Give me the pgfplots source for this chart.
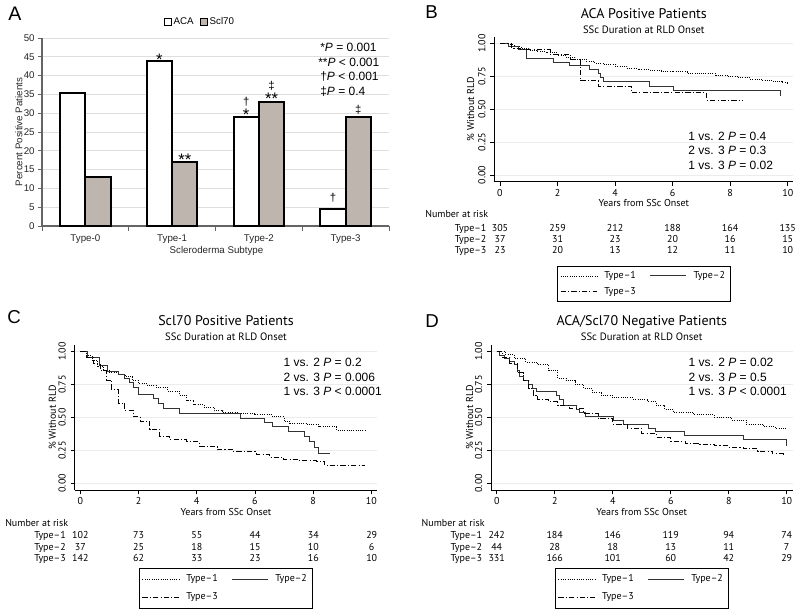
\documentclass[border=0pt]{standalone}
\usepackage{fontspec}
\setmainfont{Liberation Sans}
\newfontfamily\statafont{PT Sans}
\usepackage{pgfplots}
\pgfplotsset{compat=1.18}

\definecolor{sclgray}{RGB}{190,182,174}
\definecolor{gridgray}{RGB}{222,222,222}
\definecolor{axgray}{RGB}{100,100,100}
\definecolor{kmgrid}{RGB}{236,236,236}

\newcommand{\kmfont}{\statafont\fontsize{7.5}{9}\selectfont}

\pgfplotsset{
 kmaxis/.style={
   scale only axis, height=108.75pt,
   ymin=-0.051, ymax=1.051,
   axis x line*=bottom, axis y line*=left,
   axis line style={-, black, line width=0.6pt},
   xtick={0,2,4,6,8,10}, ytick={0,0.25,0.5,0.75,1},
   tick align=outside, major tick length=3pt,
   tick style={black, line width=0.5pt},
   ymajorgrids, grid style={kmgrid, line width=0.6pt},
   /pgf/number format/assume math mode=true,
   yticklabel style={rotate=90, anchor=south, /pgf/number format/.cd, fixed, fixed zerofill, precision=2},
   xticklabel style={yshift=1pt, /pgf/number format/.cd, fixed, precision=0},
   tick label style={font=\kmfont},
   clip=false,
   legend columns=2,
   legend cell align=left,
   legend image code/.code={\draw[##1] (0pt,0pt) -- (27.5pt,0pt);},
   legend style={draw=black, line width=0.5pt, font=\kmfont, anchor=north,
     inner xsep=2pt, inner ysep=3pt,
     /tikz/every odd column/.append style={column sep=3pt},
     /tikz/every even column/.append style={column sep=8pt},
     row sep=3pt},
 },
 t1/.style={black, line width=0.7pt, dash pattern=on 0.7pt off 1pt, const plot},
 t2/.style={black!80, line width=0.75pt, solid, const plot},
 t3/.style={black, line width=0.7pt, dash pattern=on 4pt off 1.6pt on 0.8pt off 1.6pt, const plot},
}

\begin{document}
\begin{tikzpicture}
\path[use as bounding box] (0,0) rectangle (600pt,456pt);

%% ---------------- Panel A ----------------
\begin{axis}[
  at={(31.5pt,286.5pt)}, anchor=south west,
  scale only axis, width=260.25pt, height=141pt,
  ybar=0pt, bar width=19pt,
  xmin=-0.5, xmax=3.5, ymin=0, ymax=50,
  xtick={0,1,2,3}, xticklabels={Type-0,Type-1,Type-2,Type-3},
  minor xtick={-0.5,0.5,1.5,2.5,3.5},
  ytick={0,5,...,50},
  axis x line*=bottom, axis y line*=left,
  axis line style={-, axgray, line width=0.8pt},
  tick align=outside, major tick length=3pt, minor tick length=3.5pt,
  tick style={axgray, line width=0.6pt},
  major x tick style={draw=none},
  ymajorgrids, grid style={gridgray, line width=0.6pt},
  /pgf/number format/assume math mode=true,
  yticklabel style={xshift=1pt},
  tick label style={font=\fontsize{7.3}{9}\selectfont, text=black!85},
  legend columns=2,
  legend image code/.code={\draw[#1, line width=0.8pt] (0pt,-2.6pt) rectangle (5.2pt,2.6pt);},
  legend style={at={(0.455,1.085)}, anchor=center, draw=none, fill=none,
     font=\fontsize{7.3}{9}\selectfont,
     /tikz/every odd column/.append style={column sep=0pt},
     /tikz/every even column/.append style={column sep=4pt},
     nodes={inner xsep=1pt}},
  clip=false,
]
\addplot[draw=black, line width=1.5pt, fill=white] coordinates {(0,35.5) (1,44) (2,29) (3,4.5)};
\addplot[draw=black, line width=1.5pt, fill=sclgray] coordinates {(0,13) (1,17) (2,33) (3,29)};
\legend{ACA,Scl70}
\end{axis}

%% ---------------- Panel B ----------------
\begin{axis}[kmaxis,
  at={(370.7pt,319.7pt)}, anchor=south west, width=224pt,
  xmin=-0.198, xmax=10.18,
  legend style={at={(0.5009,-0.5795)}, row sep=1pt, inner ysep=2pt},
]
\addplot[t1] coordinates {(0,1) (0.25,0.99) (0.5,0.975) (0.75,0.96) (1.0,0.95) (1.3,0.94) (1.6,0.93) (2.0,0.91) (2.3,0.895) (2.6,0.88) (3.0,0.865) (3.3,0.85) (3.6,0.84) (4.0,0.825) (4.4,0.81) (4.8,0.80) (5.2,0.795) (5.6,0.79) (6.0,0.785) (6.5,0.775) (7.0,0.77) (7.5,0.76) (7.9,0.75) (8.3,0.74) (8.7,0.73) (9.1,0.72) (9.5,0.71) (9.8,0.70) (10.0,0.69)};
\addlegendentry{Type–1}
\addplot[t2] coordinates {(0,1) (0.29,0.977) (0.64,0.951) (0.93,0.888) (1.85,0.858) (2.4,0.833) (3.1,0.80) (3.42,0.774) (3.51,0.742) (3.59,0.711) (5.18,0.675) (6.02,0.643) (9.76,0.643) (9.76,0.60)};
\addlegendentry{Type–2}
\addplot[t3] coordinates {(0,1) (0.4,0.965) (0.7,0.955) (1.75,0.92) (2.45,0.88) (2.78,0.72) (3.42,0.675) (4.58,0.625) (7.18,0.57) (8.45,0.57)};
\addlegendentry{Type–3}
\end{axis}

%% ---------------- Panel C ----------------
\begin{axis}[kmaxis,
  at={(55.9pt,88.5pt)}, anchor=south west, width=226.9pt,
  xmin=-0.2, xmax=10.2,
  legend style={at={(0.5,-0.5345)}},
]
\addplot[t1] coordinates {(0,1) (0.2,0.97) (0.4,0.93) (0.6,0.89) (0.8,0.86) (1.0,0.84) (1.3,0.83) (1.55,0.81) (1.8,0.78) (2.0,0.76) (2.3,0.745) (2.6,0.73) (3.0,0.70) (3.4,0.67) (3.65,0.63) (3.9,0.60) (4.25,0.575) (4.6,0.55) (4.9,0.535) (5.4,0.53) (6.0,0.52) (6.6,0.505) (7.0,0.47) (7.2,0.455) (7.8,0.445) (8.2,0.43) (8.8,0.405) (9.85,0.405)};
\addlegendentry{Type–1}
\addplot[t2] coordinates {(0,1) (0.24,0.957) (0.675,0.899) (0.93,0.848) (1.3,0.83) (1.53,0.797) (1.7,0.765) (1.82,0.73) (2.0,0.676) (2.5,0.646) (2.68,0.608) (2.85,0.565) (3.42,0.527) (5.52,0.494) (6.34,0.461) (6.62,0.43) (7.14,0.397) (7.71,0.354) (7.88,0.316) (8.05,0.273) (8.2,0.228) (8.57,0.228)};
\addlegendentry{Type–2}
\addplot[t3] coordinates {(0,1) (0.22,0.96) (0.45,0.91) (0.68,0.856) (0.9,0.785) (1.08,0.71) (1.3,0.61) (1.53,0.556) (1.82,0.505) (2.05,0.467) (2.39,0.41) (2.73,0.355) (3.08,0.33) (3.65,0.316) (4.1,0.283) (4.7,0.255) (5.25,0.24) (6.05,0.22) (6.5,0.2) (6.97,0.182) (7.5,0.172) (8.1,0.168) (8.4,0.139) (9.77,0.139)};
\addlegendentry{Type–3}
\end{axis}

%% ---------------- Panel D ----------------
\begin{axis}[kmaxis,
  at={(368.2pt,88.5pt)}, anchor=south west, width=226.2pt,
  xmin=-0.2, xmax=10.2,
  legend style={at={(0.5,-0.5345)}},
]
\addplot[t1] coordinates {(0,1) (0.3,0.98) (0.6,0.95) (1.0,0.92) (1.4,0.90) (1.8,0.86) (2.1,0.80) (2.4,0.78) (2.7,0.75) (3.0,0.72) (3.3,0.69) (3.6,0.67) (4.0,0.65) (4.7,0.64) (5.2,0.62) (5.5,0.59) (5.8,0.56) (6.1,0.54) (6.8,0.52) (7.5,0.50) (8.1,0.48) (8.6,0.45) (9.2,0.43) (9.6,0.42) (9.95,0.41)};
\addlegendentry{Type–1}
\addplot[t2] coordinates {(0,1) (0.10,0.975) (0.28,0.95) (0.45,0.925) (0.60,0.90) (0.70,0.86) (0.80,0.81) (0.92,0.78) (1.08,0.75) (1.25,0.72) (1.38,0.695) (2.07,0.67) (2.18,0.64) (2.30,0.59) (2.75,0.56) (2.87,0.535) (3.05,0.51) (4.02,0.48) (4.37,0.45) (5.23,0.42) (5.46,0.395) (6.49,0.365) (8.51,0.33) (10.0,0.33) (10.0,0.285)};
\addlegendentry{Type–2}
\addplot[t3] coordinates {(0,1) (0.2,0.96) (0.45,0.91) (0.7,0.84) (0.92,0.78) (1.1,0.72) (1.25,0.67) (1.4,0.64) (1.8,0.62) (2.1,0.59) (2.5,0.57) (3.0,0.53) (3.5,0.49) (4.0,0.45) (4.5,0.42) (5.0,0.38) (5.5,0.35) (6.0,0.32) (6.5,0.305) (7.0,0.295) (7.5,0.285) (8.0,0.275) (8.5,0.265) (9.0,0.245) (9.5,0.225) (9.9,0.21)};
\addlegendentry{Type–3}
\end{axis}

%% ---------------- Text in pixel coordinates ----------------
\begin{scope}[x=0.75pt, y=-0.75pt, shift={(0pt,456pt)}]
% panel letters
\node[anchor=base west, inner sep=0, font=\fontsize{14.7}{16}\selectfont] at (8,21) {A};
\node[anchor=base west, inner sep=0, font=\fontsize{14}{16}\selectfont] at (425,18.3) {B};
\node[anchor=base west, inner sep=0, font=\fontsize{14}{16}\selectfont] at (7,323) {C};
\node[anchor=base west, inner sep=0, font=\fontsize{14}{16}\selectfont] at (425,327) {D};

% Panel A labels
\node[anchor=base, rotate=90, inner sep=0, font=\fontsize{7.3}{9}\selectfont, text=black!85] at (22.5,132) {Percent Positive Patients};
\node[anchor=base, inner sep=0, font=\fontsize{7.3}{9}\selectfont, text=black!85] at (216.5,253.3) {Scleroderma Subtype};
\begin{scope}[every node/.style={anchor=base west, inner sep=0, font=\fontsize{9}{11}\selectfont}]
\node at (320,51.7) {*\textit{P} = 0.001};
\node at (318,66.2) {**\textit{P} < 0.001};
\node at (320,80.7) {†\textit{P} < 0.001};
\node at (320,95.2) {‡\textit{P} = 0.4};
\end{scope}
\begin{scope}[every node/.style={anchor=base, inner sep=0, font=\fontsize{12.5}{14}\selectfont}]
\node at (159.4,65.9) {*};
\node at (184.8,165.2) {**};
\node at (246.2,120.9) {*};
\node at (271.6,104.2) {**};
\end{scope}
\begin{scope}[every node/.style={anchor=base, inner sep=0, font=\fontsize{8.5}{10}\selectfont}]
\node at (246.2,105.1) {†};
\node at (271.6,90) {‡};
\node at (332.9,201.6) {†};
\node at (358.3,113.3) {‡};
\end{scope}

% KM titles
\begin{scope}[every node/.style={anchor=base, inner sep=0}]
\node[font=\statafont\fontsize{10.5}{12}\selectfont] at (643.8,18.3) {ACA Positive Patients};
\node[font=\statafont\fontsize{8}{10}\selectfont] at (643.8,33.3) {SSc Duration at RLD Onset};
\node[font=\statafont\fontsize{10.5}{12}\selectfont] at (226,326) {Scl70 Positive Patients};
\node[font=\statafont\fontsize{8}{10}\selectfont] at (226,340) {SSc Duration at RLD Onset};
\node[font=\statafont\fontsize{10.5}{12}\selectfont] at (641.7,326) {ACA/Scl70 Negative Patients};
\node[font=\statafont\fontsize{8}{10}\selectfont] at (641.7,340) {SSc Duration at RLD Onset};
% x labels
\node[font=\kmfont] at (643.8,206.5) {Years from SSc Onset};
\node[font=\kmfont] at (226,515.5) {Years from SSc Onset};
\node[font=\kmfont] at (641.7,515.5) {Years from SSc Onset};
% y labels
\node[font=\kmfont, rotate=90] at (474,109) {\% Without RLD};
\node[font=\kmfont, rotate=90] at (56,417.5) {\% Without RLD};
\node[font=\kmfont, rotate=90] at (473,417.5) {\% Without RLD};
\end{scope}

% P-values in KM
\begin{scope}[every node/.style={anchor=base west, inner sep=0, font=\fontsize{9}{11}\selectfont}]
\node at (688,140.7) {1 vs. 2 \textit{P} = 0.4};
\node at (688,155) {2 vs. 3 \textit{P} = 0.3};
\node at (688,169.3) {1 vs. 3 \textit{P} = 0.02};
\node at (283.3,366) {1 vs. 2 \textit{P} = 0.2};
\node at (283.3,381) {2 vs. 3 \textit{P} = 0.006};
\node at (283.3,395) {1 vs. 3 \textit{P} < 0.0001};
\node at (688.3,366) {1 vs. 2 \textit{P} = 0.02};
\node at (688.3,381) {2 vs. 3 \textit{P} = 0.5};
\node at (688.3,395) {1 vs. 3 \textit{P} < 0.0001};
\end{scope}

% Risk tables
\begin{scope}[every node/.style={inner sep=0, font=\kmfont}]
% B
\node[anchor=base west] at (425,218) {Number at risk};
\node[anchor=base east] at (486.7,231.7) {Type–1};
\node[anchor=base east] at (486.7,242.3) {Type–2};
\node[anchor=base east] at (486.7,254) {Type–3};
\foreach \k/\n in {0/305,1/259,2/212,3/188,4/164,5/135} \node[anchor=base] at (500+57.54*\k,231.7) {\n};
\foreach \k/\n in {0/37,1/31,2/23,3/20,4/16,5/15} \node[anchor=base] at (500+57.54*\k,242.3) {\n};
\foreach \k/\n in {0/23,1/20,2/13,3/12,4/11,5/10} \node[anchor=base] at (500+57.54*\k,254) {\n};
% C
\node[anchor=base west] at (5,526) {Number at risk};
\node[anchor=base east] at (66,538.7) {Type–1};
\node[anchor=base east] at (66,550.3) {Type–2};
\node[anchor=base east] at (66,561.3) {Type–3};
\foreach \k/\n in {0/102,1/73,2/55,3/44,4/34,5/29} \node[anchor=base] at (80.3+58.28*\k,538.7) {\n};
\foreach \k/\n in {0/37,1/25,2/18,3/15,4/10,5/6} \node[anchor=base] at (80.3+58.28*\k,550.3) {\n};
\foreach \k/\n in {0/142,1/62,2/33,3/23,4/16,5/10} \node[anchor=base] at (80.3+58.28*\k,561.3) {\n};
% D
\node[anchor=base west] at (421.4,526) {Number at risk};
\node[anchor=base east] at (482.4,538.7) {Type–1};
\node[anchor=base east] at (482.4,550.3) {Type–2};
\node[anchor=base east] at (482.4,561.3) {Type–3};
\foreach \k/\n in {0/242,1/184,2/146,3/119,4/94,5/74} \node[anchor=base] at (496.7+58*\k,538.7) {\n};
\foreach \k/\n in {0/44,1/28,2/18,3/13,4/11,5/7} \node[anchor=base] at (496.7+58*\k,550.3) {\n};
\foreach \k/\n in {0/331,1/166,2/101,3/60,4/42,5/29} \node[anchor=base] at (496.7+58*\k,561.3) {\n};
\end{scope}
\end{scope}
\end{tikzpicture}
\end{document}
